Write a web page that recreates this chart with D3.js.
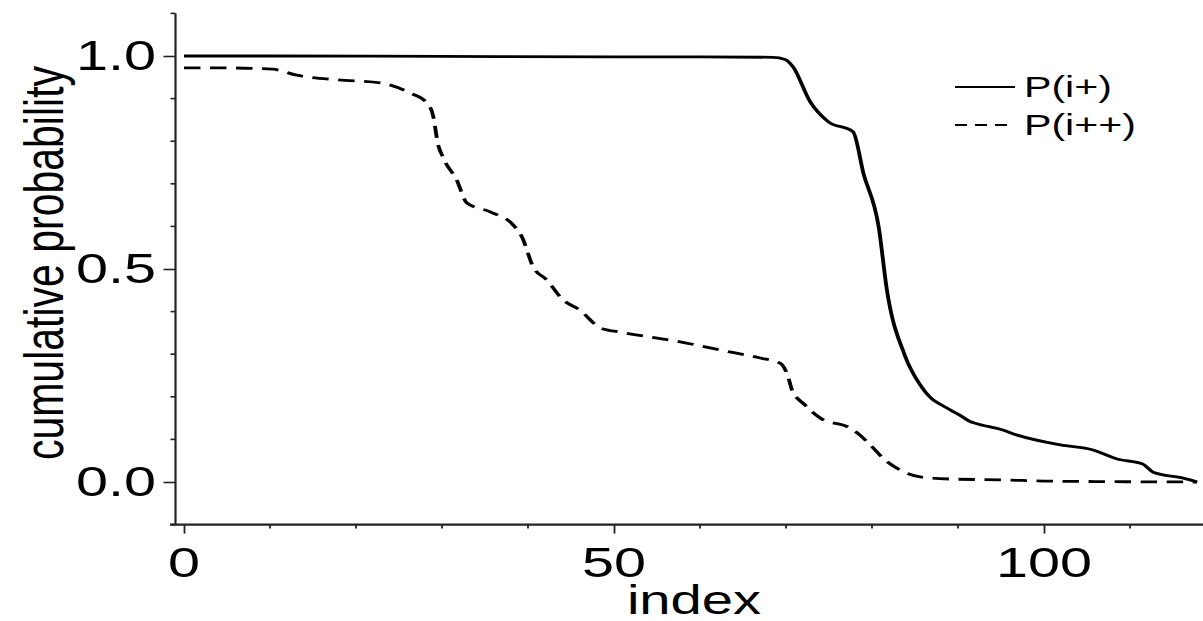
<!DOCTYPE html>
<html>
<head>
<meta charset="utf-8">
<script src="https://cdn.jsdelivr.net/npm/d3@7/dist/d3.min.js"></script>
<style>
  html, body { margin: 0; padding: 0; background: #fff; }
  svg { display: block; }
  text { font-family: "Liberation Sans", Arial, Helvetica, sans-serif; fill: #000; }
</style>
</head>
<body>
<svg id="chart" width="1203" height="621"></svg>
<script>
// ---- data ----
const seriesNames = ["P(i+)", "P(i++)"];

const pPlusX = [0, 10, 30, 50, 60, 68.5, 69.9, 70.8, 72.8, 74.9, 77.8, 79.0, 80.8, 81.7, 83.8, 85.6, 86.7, 88.5, 90.2, 91.4, 92.0, 95.2, 96.9, 101.9, 105.7, 108.5, 111.5, 112.7, 116.2, 117.8];
const pPlusY = [1.0, 1.0, 0.999, 0.998, 0.998, 0.997, 0.992, 0.975, 0.893, 0.846, 0.822, 0.725, 0.596, 0.455, 0.298, 0.228, 0.200, 0.176, 0.157, 0.142, 0.138, 0.122, 0.110, 0.087, 0.075, 0.054, 0.042, 0.023, 0.009, 0.0];

const pPlusPlusX = [0, 5, 10.3, 13.1, 17.8, 22.8, 26.3, 28.3, 29.0, 29.5, 30.1, 31.7, 32.9, 35.6, 38.3, 39.3, 40.6, 42.2, 44.1, 46.0, 48.4, 50.7, 57.7, 62.3, 67.0, 69.3, 70.2, 70.7, 72.2, 74.0, 77.4, 78.6, 79.8, 81.5, 83.3, 85.6, 89.0, 95.0, 100.7, 117.8];
const pPlusPlusY = [0.972, 0.972, 0.969, 0.955, 0.944, 0.937, 0.913, 0.889, 0.857, 0.796, 0.763, 0.709, 0.655, 0.634, 0.603, 0.575, 0.505, 0.474, 0.427, 0.404, 0.362, 0.352, 0.329, 0.310, 0.291, 0.279, 0.250, 0.216, 0.181, 0.150, 0.127, 0.110, 0.087, 0.052, 0.028, 0.012, 0.007, 0.005, 0.002, 0.0];

const xMajorTicks = [0, 50, 100];
const xMinorTicks = [10, 20, 30, 40, 60, 70, 80, 90, 110];
const yMajorTicks = [0.0, 0.5, 1.0];
const yMinorTicks = [-0.1, 0.1, 0.2, 0.3, 0.4, 0.6, 0.7, 0.8, 0.9, 1.1];

const xLabel = "index";
const yLabel = "cumulative probability";

// ---- layout ----
const SX = 1.37; // horizontal stretch seen in the reference
const svg = d3.select("#chart");

const x = d3.scaleLinear().domain([0, 100]).range([184, 1044]);
const y = d3.scaleLinear().domain([0, 1]).range([482, 56]);
// x scale in the unstretched space used for the curves
const xu = d3.scaleLinear().domain([0, 100]).range([184 / SX, 1044 / SX]);

const yAxisX = 175.5;
const xAxisY = y(-0.1);
const axisColor = "#222";

// y axis
const gy = svg.append("g").attr("transform", `translate(${yAxisX},0)`);
gy.call(d3.axisLeft(y).tickValues(yMajorTicks).tickSize(12).tickFormat(""))
  .call(g => g.select(".domain").remove());
gy.selectAll(".tick line").attr("stroke", axisColor).attr("stroke-width", 1.6);
gy.selectAll(".minor").data(yMinorTicks).enter().append("line")
  .attr("x1", -5).attr("x2", 0)
  .attr("y1", d => y(d)).attr("y2", d => y(d))
  .attr("stroke", axisColor).attr("stroke-width", 1.6);
gy.append("line").attr("x1", 0).attr("x2", 0)
  .attr("y1", y(1.1)).attr("y2", xAxisY)
  .attr("stroke", axisColor).attr("stroke-width", 2.2);

// y tick labels (stretched)
svg.selectAll(".ylab").data(yMajorTicks).enter().append("text")
  .attr("transform", d => `translate(156,${y(d) + 14}) scale(${SX},1)`)
  .attr("text-anchor", "end")
  .style("font-size", "42px")
  .text(d => d3.format(".1f")(d));

// x axis
const gx = svg.append("g").attr("transform", `translate(0,${xAxisY})`);
gx.call(d3.axisBottom(x).tickValues(xMajorTicks).tickSize(9).tickFormat(""))
  .call(g => g.select(".domain").remove());
gx.selectAll(".tick line").attr("stroke", axisColor).attr("stroke-width", 1.8);
gx.selectAll(".minor").data(xMinorTicks).enter().append("line")
  .attr("x1", d => x(d)).attr("x2", d => x(d))
  .attr("y1", 0).attr("y2", 4)
  .attr("stroke", axisColor).attr("stroke-width", 1.8);
gx.append("line").attr("x1", 170).attr("x2", 1203)
  .attr("y1", 0).attr("y2", 0)
  .attr("stroke", axisColor).attr("stroke-width", 2.2);

svg.selectAll(".xlab").data(xMajorTicks).enter().append("text")
  .attr("transform", d => `translate(${x(d)},577) scale(${SX},1)`)
  .attr("text-anchor", "middle")
  .style("font-size", "42px")
  .text(d => d);

// axis titles
svg.append("text")
  .attr("transform", `translate(694,614) scale(${SX},1)`)
  .attr("text-anchor", "middle")
  .style("font-size", "41px")
  .text(xLabel);

svg.append("text")
  .attr("transform", `translate(63,263) scale(${SX},1) rotate(-90)`)
  .attr("text-anchor", "middle")
  .style("font-size", "41px")
  .text(yLabel);

// lines, drawn in unstretched space and stretched horizontally like the reference
const curves = svg.append("g").attr("transform", `scale(${SX},1)`);
const line = d3.line().x(d => xu(d[0])).y(d => y(d[1])).curve(d3.curveMonotoneX);
const s1 = pPlusX.map((v, i) => [v, pPlusY[i]]);
const s2 = pPlusPlusX.map((v, i) => [v, pPlusPlusY[i]]);

curves.append("path").datum(s1).attr("d", line)
  .attr("fill", "none").attr("stroke", "#000").attr("stroke-width", 2.8);
curves.append("path").datum(s2).attr("d", line)
  .attr("fill", "none").attr("stroke", "#000").attr("stroke-width", 2.8)
  .attr("stroke-dasharray", "12,7");

// legend
const legend = svg.append("g");
const legItems = [
  { name: seriesNames[0], dash: null, y: 87, x2: 1015 },
  { name: seriesNames[1], dash: "12,8", y: 125, x2: 1007 }
];
legItems.forEach(it => {
  legend.append("line").attr("x1", 955).attr("x2", it.x2)
    .attr("y1", it.y).attr("y2", it.y)
    .attr("stroke", "#000").attr("stroke-width", 2.2)
    .attr("stroke-dasharray", it.dash);
  legend.append("text")
    .attr("transform", `translate(1024,${it.y + 10}) scale(${SX},1)`)
    .style("font-size", "30px")
    .text(it.name);
});
</script>
</body>
</html>
